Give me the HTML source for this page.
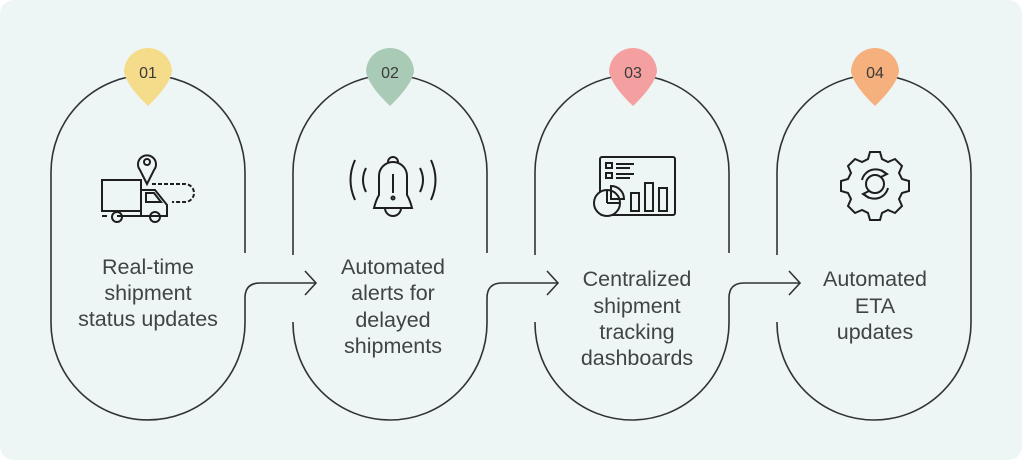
<!DOCTYPE html>
<html><head><meta charset="utf-8"><style>
html,body{margin:0;padding:0;background:#fff;}
svg{display:block;}
text{font-family:"Liberation Sans",sans-serif;font-size:21.5px;fill:#3f4445;text-anchor:middle;}
.n{font-size:16px;fill:#3a3a3a;}
</style></head><body>
<svg width="1022" height="460" viewBox="0 0 1022 460" xmlns="http://www.w3.org/2000/svg">
<rect x="0" y="0" width="1022" height="460" rx="14" fill="#eef5f5"/>
<g fill="none" stroke="#2f3333" stroke-width="1.6">
<path d="M51,323 V172 A97,97 0 0 1 245,172 V253"/>
<path d="M51,323 A97,97 0 0 0 245,323 V298 Q245,283 260,283 H316"/>
<path d="M305,271 L316,283 L305,295"/>
<path d="M293,255 V172 A97,97 0 0 1 487,172 V253"/>
<path d="M293,322 V323 A97,97 0 0 0 487,323 V298 Q487,283 502,283 H558"/>
<path d="M547,271 L558,283 L547,295"/>
<path d="M535,255 V172 A97,97 0 0 1 729,172 V253"/>
<path d="M535,322 V323 A97,97 0 0 0 729,323 V298 Q729,283 744,283 H800"/>
<path d="M789,271 L800,283 L789,295"/>
<path d="M777,255 V172 A97,97 0 0 1 971,172 V323 A97,97 0 0 1 777,323 V322"/>
</g>
<g>
<path d="M124,72 A24,24 0 1 1 172,72 Q169,86 148,106 Q127,86 124,72Z" fill="#f5dc8a"/>
<path d="M366,72 A24,24 0 1 1 414,72 Q411,86 390,106 Q369,86 366,72Z" fill="#a9cbb6"/>
<path d="M609,72 A24,24 0 1 1 657,72 Q654,86 633,106 Q612,86 609,72Z" fill="#f4a0a0"/>
<path d="M851,72 A24,24 0 1 1 899,72 Q896,86 875,106 Q854,86 851,72Z" fill="#f5b07e"/>
<text class="n" x="148" y="78">01</text>
<text class="n" x="390" y="78">02</text>
<text class="n" x="633" y="78">03</text>
<text class="n" x="875" y="78">04</text>
</g>
<g fill="none" stroke="#1e1e1e" stroke-width="2">
<rect x="102" y="180" width="39" height="31"/>
<path d="M141,190 H155 L167,205 V216 H141 Z"/>
<path d="M146,193 H154 L161,202 H146 Z"/>
<path d="M102,216 H107 M117,216 H152"/>
<circle cx="117" cy="217" r="5"/><circle cx="155" cy="217" r="5"/>
<path d="M147,184 L140,170 A9,9 0 1 1 154,170 Z"/>
<circle cx="147" cy="162" r="3"/>
<path d="M152,184 H185 A9,9 0 0 1 185,202 H172" stroke-dasharray="4,2"/>
<path d="M374,208 Q376,200 379,195 V176 A14,14 0 0 1 407,176 V195 Q410,200 412,208 Z"/>
<path d="M385,208 A8,8 0 0 0 401,208"/>
<path d="M388,162 A5,5 0 0 1 398,162"/>
<path d="M393,174 V193"/><circle cx="393" cy="198" r="1.5"/>
<path d="M366,168 Q360,180 366,192 M355,160 Q346,180 355,200 M420,168 Q426,180 420,192 M431,160 Q440,180 431,200"/>
<rect x="600" y="157" width="75" height="58" rx="2"/>
<rect x="606" y="163" width="6" height="5"/><rect x="606" y="173" width="6" height="5"/>
<path d="M616,164 H634 M616,168 H630 M616,174 H634 M616,178 H630"/>
<circle cx="607" cy="203" r="13" fill="#eef5f5"/>
<path d="M607,203 V190 M607,203 H620"/>
<path d="M611,199 V186 A13,13 0 0 1 624,199 Z"/>
<rect x="631" y="193" width="8" height="18"/><rect x="645" y="183" width="8" height="28"/><rect x="659" y="188" width="8" height="23"/>
<path d="M870,152 h10 l2,7 l6,3 l7,-3 l7,7 l-3,7 l3,6 l7,2 v10 l-7,2 l-3,6 l3,7 l-7,7 l-7,-3 l-6,3 l-2,7 h-10 l-2,-7 l-6,-3 l-7,3 l-7,-7 l3,-7 l-3,-6 l-7,-2 v-10 l7,-2 l3,-6 l-3,-7 l7,-7 l7,3 l6,-3 z"/>
<circle cx="875" cy="184" r="9"/>
<path d="M862,180 A14,14 0 0 1 886,174 M888,188 A14,14 0 0 1 864,194"/>
<path d="M881,170 L887,174 L881,177 M869,191 L863,194 L869,198"/>
</g>
<text x="148" y="274">Real-time</text>
<text x="148" y="300">shipment</text>
<text x="148" y="326">status updates</text>
<text x="393" y="274">Automated</text>
<text x="393" y="300">alerts for</text>
<text x="393" y="327">delayed</text>
<text x="393" y="353">shipments</text>
<text x="637" y="286">Centralized</text>
<text x="637" y="313">shipment</text>
<text x="637" y="339">tracking</text>
<text x="637" y="365">dashboards</text>
<text x="875" y="286">Automated</text>
<text x="875" y="313">ETA</text>
<text x="875" y="339">updates</text>
</svg>
</body></html>
